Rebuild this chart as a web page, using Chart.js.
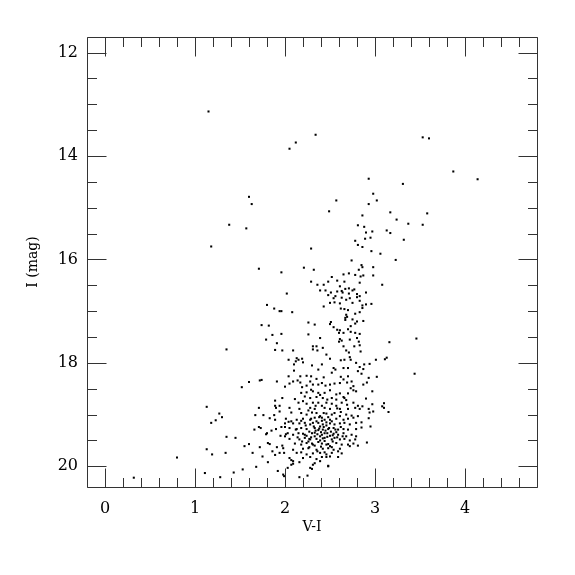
<!DOCTYPE html>
<html><head><meta charset="utf-8">
<script src="https://cdn.jsdelivr.net/npm/chart.js@4/dist/chart.umd.min.js"></script>
<style>html,body{margin:0;padding:0;background:#fff}#wrap{width:575px;height:575px}</style>
</head><body><div id="wrap"><canvas id="c" width="575" height="575"></canvas></div>
<script>
// Axis tick labels
const xTickLabels = [0, 1, 2, 3, 4];
const yTickLabels = [12, 14, 16, 18, 20];

// Stars as [V-I, I (mag)]
const brightStars = [[1.15,13.14],[2.12,13.74],[2.05,13.86],[1.60,14.79],[1.63,14.93],[1.38,15.33],[1.57,15.40],[1.18,15.75],[1.71,16.18],[1.96,16.25],[2.02,16.66]];

const upperBranch = [[2.34,13.59],[3.53,13.64],[3.60,13.66],[3.87,14.30],[4.14,14.45],[2.93,14.44],[3.31,14.54],[2.98,14.73],[3.02,14.86],[2.93,14.93],[2.57,14.86],[2.49,15.07],[2.86,15.15],[3.17,15.09],[3.24,15.23],[3.58,15.11],[3.37,15.31],[3.53,15.33],[2.81,15.34],[2.88,15.37],[2.97,15.46],[2.90,15.48],[3.13,15.44],[3.17,15.49],[2.78,15.64],[2.89,15.60],[2.95,15.58],[3.32,15.62],[2.81,15.72],[2.86,15.76],[2.29,15.79],[2.96,15.84],[3.06,15.89],[3.23,16.01],[2.74,16.02],[2.85,16.11],[2.86,16.15],[2.98,16.15],[2.21,16.16],[2.32,16.20],[2.82,16.20],[2.65,16.29],[2.71,16.27],[2.78,16.30],[2.84,16.33],[2.87,16.31],[2.98,16.31],[2.52,16.34],[2.29,16.43],[2.36,16.49],[2.43,16.49],[2.48,16.43],[2.58,16.41],[2.66,16.43],[2.83,16.45],[3.08,16.49],[2.61,16.52],[2.71,16.56],[2.39,16.60],[2.45,16.60],[2.51,16.64],[2.58,16.62],[2.63,16.61],[2.67,16.57],[2.75,16.60],[2.77,16.58],[2.90,16.64],[2.64,16.64],[2.71,16.66],[2.80,16.67],[2.48,16.69],[2.56,16.71],[2.80,16.73],[2.83,16.71],[2.63,16.74],[2.72,16.75],[2.54,16.75]];

const giantBranch = [[2.43,16.91],[1.96,17.00],[2.08,17.02],[2.50,16.84],[2.55,16.83],[2.61,16.85],[2.68,16.78],[2.75,16.84],[2.83,16.80],[2.86,16.89],[2.90,16.87],[2.96,16.86],[2.62,16.95],[2.66,16.96],[2.70,16.98],[2.78,17.05],[2.83,17.02],[2.68,17.07],[2.67,17.13],[2.69,17.11],[2.67,17.17],[2.75,17.16],[2.80,17.20],[2.87,17.19],[2.51,17.21],[2.50,17.25],[2.26,17.22],[2.33,17.26],[2.78,17.24],[2.73,17.29],[2.70,17.35],[2.54,17.31],[2.58,17.36],[2.61,17.37],[2.65,17.42],[2.60,17.42],[2.73,17.40],[2.78,17.42],[2.80,17.52],[1.96,17.44],[2.26,17.45],[2.39,17.52],[2.61,17.54],[2.60,17.59],[2.63,17.57],[2.72,17.55],[2.82,17.59],[2.83,17.66],[3.16,17.60],[2.31,17.68],[2.35,17.68],[2.31,17.74],[2.42,17.71],[2.36,17.76],[2.65,17.68],[2.68,17.76],[2.71,17.80],[2.77,17.68],[2.84,17.78],[1.97,17.76],[2.09,17.76],[2.46,17.84],[2.04,17.94],[2.13,17.91],[2.15,17.94],[2.19,17.92],[2.12,17.97],[2.20,17.99],[2.50,17.92],[2.62,17.95],[2.66,17.94],[2.73,17.94],[2.72,17.89],[2.79,18.00],[2.88,18.03],[2.94,18.02],[3.01,17.94],[3.11,17.93],[3.13,17.90],[2.10,18.03],[2.41,18.03],[2.30,18.05],[2.54,18.10],[2.56,18.13],[2.65,18.10],[2.70,18.10],[2.83,18.08],[2.87,18.12],[2.10,18.15],[2.37,18.13],[2.81,18.16],[2.52,18.19],[2.85,18.21],[2.04,18.26],[2.17,18.26],[2.24,18.25],[2.29,18.26],[2.43,18.28],[2.62,18.27],[2.70,18.26],[2.93,18.29],[3.02,18.27]];

const redSide = [[2.86,16.94],[2.83,17.44],[3.46,17.53],[3.44,18.21],[2.91,18.38],[2.87,18.42],[2.97,18.55],[2.90,18.69],[3.10,18.78],[2.97,18.80],[3.08,18.84],[3.10,18.87],[2.86,18.84],[2.83,18.89],[2.93,18.89],[2.98,18.94],[2.94,18.96],[3.15,18.95],[2.93,19.07],[2.85,19.15],[2.85,19.25],[2.95,19.23],[2.91,19.54]];

const blueSide = [[1.80,16.88],[1.88,16.95],[1.94,17.00],[1.74,17.27],[1.82,17.28],[1.86,17.46],[1.79,17.55],[1.91,17.62],[1.35,17.74],[1.89,17.75],[1.52,18.47],[1.60,18.37],[1.72,18.34],[1.74,18.33],[1.91,18.36],[2.00,18.46],[1.97,18.68],[1.89,18.73],[1.89,18.83],[1.90,18.87],[1.94,18.83],[1.94,18.94],[1.71,18.87],[1.67,19.01],[1.76,19.01],[1.83,19.07],[1.88,19.01],[1.89,19.10],[2.01,19.08],[2.04,19.14],[1.13,18.85],[1.18,19.16],[1.23,19.11],[1.27,18.98],[1.30,19.05],[1.66,19.29],[1.71,19.24],[1.73,19.26],[1.79,19.38],[1.80,19.36],[1.85,19.31],[1.90,19.28],[1.96,19.24],[2.00,19.17],[2.00,19.24],[1.95,19.41],[2.00,19.42],[2.01,19.38],[2.03,19.36],[1.35,19.43],[1.45,19.45],[1.55,19.61],[1.60,19.57],[1.72,19.63],[1.81,19.55],[1.83,19.57],[1.91,19.63],[1.97,19.60],[1.98,19.65],[1.13,19.67],[1.19,19.77],[1.34,19.74],[1.64,19.74],[1.75,19.81],[1.86,19.71],[1.89,19.78],[1.94,19.74],[1.99,19.74],[0.80,19.83],[1.81,19.92],[1.68,20.01],[1.53,20.06],[1.43,20.12],[1.11,20.13],[1.28,20.21],[1.92,20.09],[2.03,20.03],[1.99,20.19],[0.32,20.22]];

const lowerClump = [[2.09,18.36],[2.14,18.34],[2.17,18.38],[2.24,18.44],[2.28,18.36],[2.31,18.42],[2.37,18.42],[2.41,18.39],[2.45,18.44],[2.50,18.42],[2.55,18.40],[2.61,18.39],[2.65,18.32],[2.69,18.38],[2.74,18.36],[2.76,18.45],[2.05,18.40],
[2.18,18.58],[2.24,18.57],[2.31,18.55],[2.37,18.58],[2.44,18.58],[2.50,18.53],[2.57,18.61],[2.61,18.59],[2.65,18.66],[2.70,18.59],[2.76,18.53],[2.79,18.55],[2.11,18.70],[2.28,18.68],[2.35,18.66],[2.42,18.68],[2.52,18.68],[2.57,18.71],[2.66,18.68],
[2.15,18.77],[2.20,18.74],[2.24,18.79],[2.31,18.77],[2.37,18.77],[2.41,18.83],[2.46,18.77],[2.52,18.79],[2.57,18.83],[2.63,18.77],[2.69,18.81],[2.76,18.77],[2.81,18.83],[2.05,18.87],[2.16,18.89],[2.28,18.87],[2.33,18.89],[2.44,18.87],[2.50,18.89],[2.61,18.89],[2.70,18.89],[2.78,18.87],
[2.07,18.96],[2.18,18.97],[2.24,19.00],[2.30,18.96],[2.35,18.97],[2.39,19.03],[2.46,18.98],[2.52,19.00],[2.55,18.97],[2.61,19.03],[2.68,19.00],[2.74,19.02],[2.81,19.03],[2.07,19.13],[2.13,19.10],[2.20,19.08],[2.28,19.10],[2.33,19.06],[2.41,19.06],[2.44,19.10],[2.50,19.10],[2.57,19.08],[2.65,19.10],[2.70,19.08],[2.76,19.06],
[2.09,19.17],[2.16,19.17],[2.22,19.16],[2.28,19.19],[2.31,19.16],[2.37,19.16],[2.39,19.23],[2.42,19.19],[2.46,19.21],[2.50,19.17],[2.55,19.19],[2.61,19.17],[2.66,19.16],[2.72,19.19],[2.79,19.16],[2.05,19.26],[2.13,19.28],[2.18,19.26],[2.24,19.28],[2.33,19.26],[2.37,19.30],[2.42,19.29],[2.48,19.28],[2.54,19.26],[2.59,19.29],[2.65,19.28],[2.70,19.29],[2.79,19.28],
[2.09,19.39],[2.15,19.36],[2.20,19.37],[2.24,19.41],[2.30,19.36],[2.33,19.42],[2.41,19.39],[2.44,19.36],[2.50,19.41],[2.54,19.37],[2.59,19.39],[2.65,19.36],[2.68,19.42],[2.74,19.39],[2.79,19.42],[2.05,19.47],[2.16,19.48],[2.22,19.45],[2.28,19.48],[2.35,19.47],[2.39,19.50],[2.44,19.45],[2.52,19.48],[2.55,19.45],[2.61,19.48],[2.66,19.47],[2.72,19.50],[2.78,19.48],
[2.11,19.56],[2.18,19.58],[2.24,19.55],[2.30,19.56],[2.33,19.60],[2.41,19.56],[2.46,19.58],[2.50,19.61],[2.57,19.55],[2.63,19.58],[2.70,19.58],[2.76,19.56],[2.81,19.60],[2.09,19.68],[2.20,19.66],[2.26,19.65],[2.35,19.68],[2.42,19.66],[2.48,19.65],[2.54,19.68],[2.61,19.66],[2.72,19.61],
[2.13,19.74],[2.18,19.73],[2.24,19.77],[2.31,19.75],[2.39,19.74],[2.46,19.77],[2.52,19.74],[2.59,19.71],[2.63,19.75],[2.05,19.84],[2.07,19.88],[2.20,19.84],[2.28,19.82],[2.35,19.86],[2.41,19.82],[2.46,19.82],[2.50,19.81],[2.59,19.82],
[2.09,19.95],[2.16,19.92],[2.31,19.97],[2.39,19.90],[2.48,20.00],[2.30,20.05],
[1.98,20.16],[2.16,20.21],[2.25,20.18],[2.48,19.99],[2.28,20.03],[2.33,19.94],[2.07,19.97],[2.09,19.90]];

const denseCore = [[2.23,19.21],[2.27,19.33],[2.29,19.44],[2.32,19.23],[2.34,19.31],[2.36,19.38],[2.38,19.27],[2.40,19.34],[2.43,19.24],[2.45,19.31],[2.47,19.43],[2.49,19.26],[2.51,19.33],[2.53,19.52],[2.56,19.29],[2.58,19.44],[2.26,19.52],[2.31,19.58],[2.37,19.53],[2.40,19.62],[2.44,19.51],[2.48,19.57],[2.35,19.13],[2.41,19.12],[2.46,19.15],[2.52,19.13],[2.29,19.08],[2.38,19.05],[2.43,18.97],[2.48,19.05],[2.22,19.39],[2.27,19.47],[2.33,19.35],[2.39,19.42],[2.42,19.46],[2.47,19.36],[2.53,19.40],[2.57,19.34],[2.62,19.24],[2.64,19.42],[2.36,19.71],[2.44,19.73],[2.27,19.63],[2.52,19.63],[2.19,19.52],[2.14,19.44],[2.12,19.29],[2.18,19.12],[2.26,18.92],[2.34,18.83],[2.47,18.71],[2.39,18.62],[2.58,18.88],[2.62,18.95],[2.68,18.72],[2.73,18.49],[2.22,18.65],[2.29,18.52],[2.19,18.47],[2.35,18.31]];

const allStars = [].concat(brightStars, upperBranch, giantBranch, redSide, blueSide, lowerClump, denseCore)
  .map(p => ({x: p[0], y: p[1]}));

const FONT = 'DejaVu Serif';
const frameColor = '#333';

const framePlugin = {
  id: 'frameTicks',
  afterDatasetsDraw(chart) {
    const {ctx, chartArea: a, scales: {x, y}} = chart;
    ctx.save();
    ctx.strokeStyle = frameColor;
    ctx.lineWidth = 1;
    const L = Math.round(a.left) + 0.5, R = Math.round(a.right) + 0.5;
    const T = Math.round(a.top) + 0.5, B = Math.round(a.bottom) + 0.5;
    ctx.beginPath();
    ctx.rect(L, T, R - L, B - T);
    // x ticks every 0.2, major at integers
    for (let i = 0; i <= 25; i++) {
      const v = -0.2 + i * 0.2;
      const major = xTickLabels.some(t => Math.abs(t - v) < 1e-6);
      const px = Math.round(x.getPixelForValue(v)) + 0.5;
      const len = major ? 19 : 9.5;
      ctx.moveTo(px, B); ctx.lineTo(px, B - len);
      ctx.moveTo(px, T); ctx.lineTo(px, T + len);
    }
    // y ticks every 0.5, major at labelled values
    for (let i = 0; i <= 16; i++) {
      const v = 12 + i * 0.5;
      const major = yTickLabels.some(t => Math.abs(t - v) < 1e-6);
      const py = Math.round(y.getPixelForValue(v)) + 0.5;
      const len = major ? 19 : 9.5;
      ctx.moveTo(L, py); ctx.lineTo(L + len, py);
      ctx.moveTo(R, py); ctx.lineTo(R - len, py);
    }
    ctx.stroke();
    ctx.restore();
  }
};

new Chart(document.getElementById('c'), {
  type: 'scatter',
  data: { datasets: [{
    data: allStars,
    pointStyle: 'rect',
    pointRadius: 1.45,
    pointHoverRadius: 1.45,
    backgroundColor: '#000',
    borderWidth: 0
  }]},
  options: {
    responsive: false,
    animation: false,
    events: [],
    layout: { padding: { top: 37, right: 38, left: 0, bottom: 0 } },
    plugins: { legend: { display: false }, tooltip: { enabled: false } },
    scales: {
      x: {
        type: 'linear', min: -0.2, max: 4.8,
        afterBuildTicks: s => { s.ticks = xTickLabels.map(v => ({value: v})); },
        afterFit: s => { s.height = 88; },
        grid: { display: false, drawTicks: false },
        border: { display: false },
        ticks: { padding: 12, color: '#000', maxRotation: 0, autoSkip: false,
                 font: { family: FONT, size: 16 }, callback: v => String(v) },
        title: { display: true, text: 'V-I', color: '#000',
                 font: { family: FONT, size: 14 }, padding: { top: 0, bottom: 39 } }
      },
      y: {
        type: 'linear', min: 11.7, max: 20.4, reverse: true,
        afterBuildTicks: s => { s.ticks = yTickLabels.map(v => ({value: v})); },
        afterFit: s => { s.width = 87; },
        grid: { display: false, drawTicks: false },
        border: { display: false },
        ticks: { padding: 9, color: '#000', autoSkip: false,
                 font: { family: FONT, size: 16 }, callback: v => String(v) },
        title: { display: true, text: 'I (mag)', color: '#000',
                 font: { family: FONT, size: 14 }, padding: { top: 25, bottom: 0 } }
      }
    }
  },
  plugins: [framePlugin]
});
</script>
</body></html>
